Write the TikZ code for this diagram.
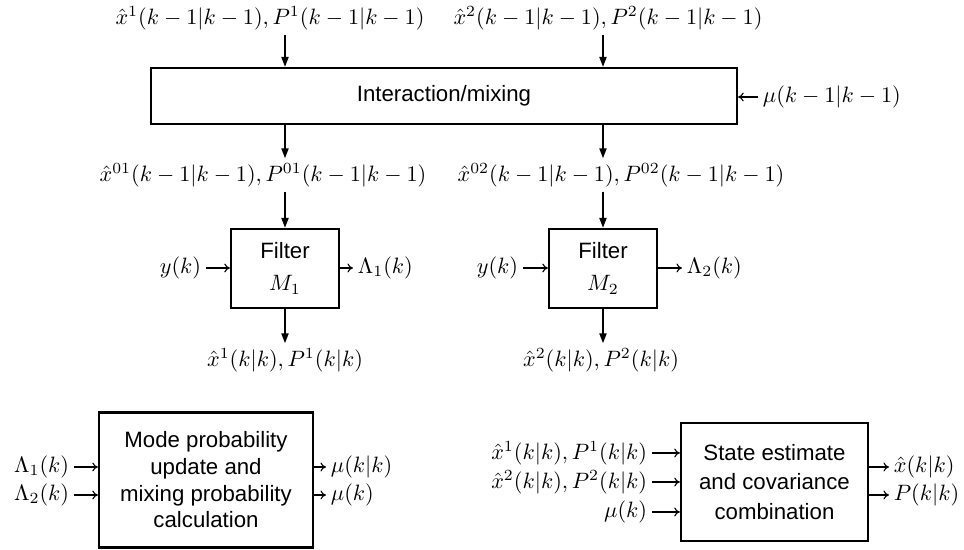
\documentclass[tikz,border=0pt]{standalone}
\usepackage{fontspec}
\setsansfont{Liberation Sans}
\usetikzlibrary{arrows.meta}
\begin{document}
\begin{tikzpicture}[x=0.45pt,y=-0.45pt,
  box/.style={draw, line width=1pt, font=\sffamily, align=center, inner sep=0pt},
  lbl/.style={inner sep=2pt},
  varr/.style={line width=0.8pt, -{Triangle[length=4.5pt,width=3.2pt]}},
  harr/.style={line width=0.5pt, -{To[length=2.5pt,width=4pt]}}]
\useasboundingbox (0,0) rectangle (964,550);
% interaction / mixing
\node[box, minimum width=263.7pt, minimum height=25.2pt] (ib) at (444,96) {Interaction/mixing};
\node[lbl] (t1) at (270,18) {$\hat{x}^1(k-1|k-1), P^1(k-1|k-1)$};
\node[lbl] (t2) at (608,18) {$\hat{x}^2(k-1|k-1), P^2(k-1|k-1)$};
\node[lbl, anchor=west] (mu0) at (758,97) {$\mu(k-1|k-1)$};
\node[lbl] (m1) at (263,175) {$\hat{x}^{01}(k-1|k-1), P^{01}(k-1|k-1)$};
\node[lbl] (m2) at (621,175) {$\hat{x}^{02}(k-1|k-1), P^{02}(k-1|k-1)$};
% filters
\node[box, minimum width=48.6pt, minimum height=35.6pt] (f1) at (285,268.5) {Filter\\[2.4pt] $M_1$};
\node[box, minimum width=48.6pt, minimum height=35.6pt] (f2) at (603,268.5) {Filter\\[2.4pt] $M_2$};
\node[lbl, anchor=east] (y1) at (206,268) {$y(k)$};
\node[lbl, anchor=west] (l1) at (353,268) {$\Lambda_1(k)$};
\node[lbl, anchor=east] (y2) at (523,268) {$y(k)$};
\node[lbl, anchor=west] (l2) at (682,268) {$\Lambda_2(k)$};
\node[lbl] (b1) at (285,360) {$\hat{x}^1(k|k), P^1(k|k)$};
\node[lbl] (b2) at (601,360) {$\hat{x}^2(k|k), P^2(k|k)$};
% mode probability box
\node[box, minimum width=96.3pt, minimum height=60.75pt] (mp) at (206,480)
  {Mode probability\\update and\\mixing probability\\calculation};
\node[lbl, anchor=east] (la1) at (74,467) {$\Lambda_1(k)$};
\node[lbl, anchor=east] (la2) at (74,495) {$\Lambda_2(k)$};
\node[lbl, anchor=west] (mo1) at (326,467) {$\mu(k|k)$};
\node[lbl, anchor=west] (mo2) at (326,495) {$\mu(k)$};
% combination box
\node[box, minimum width=84.2pt, minimum height=53.1pt] (sc) at (774.5,482)
  {State estimate\\[1.3pt]and covariance\\[1.3pt]combination};
\node[lbl, anchor=east] (si1) at (652,453) {$\hat{x}^1(k|k), P^1(k|k)$};
\node[lbl, anchor=east] (si2) at (652,482) {$\hat{x}^2(k|k), P^2(k|k)$};
\node[lbl, anchor=east] (si3) at (652,512) {$\mu(k)$};
\node[lbl, anchor=west] (so1) at (889,467) {$\hat{x}(k|k)$};
\node[lbl, anchor=west] (so2) at (889,495) {$P(k|k)$};
% vertical connectors
\draw[varr] (t1.south -| f1.north) -- (ib.north -| f1.north);
\draw[varr] (t2.south -| f2.north) -- (ib.north -| f2.north);
\draw[varr] (ib.south -| f1.north) -- (m1.north -| f1.north);
\draw[varr] (ib.south -| f2.north) -- (m2.north -| f2.north);
\draw[varr] (m1.south -| f1.north) -- (f1.north);
\draw[varr] (m2.south -| f2.north) -- (f2.north);
\draw[varr] (f1.south) -- (b1.north -| f1.south);
\draw[varr] (f2.south) -- (b2.north -| f2.south);
% horizontal connectors
\draw[harr] (mu0.west) -- (ib.east |- mu0.west);
\draw[harr] (y1.east) -- (f1.west |- y1.east);
\draw[harr] (f1.east |- l1.west) -- (l1.west);
\draw[harr] (y2.east) -- (f2.west |- y2.east);
\draw[harr] (f2.east |- l2.west) -- (l2.west);
\draw[harr] (la1.east) -- (mp.west |- la1.east);
\draw[harr] (la2.east) -- (mp.west |- la2.east);
\draw[harr] (mp.east |- mo1.west) -- (mo1.west);
\draw[harr] (mp.east |- mo2.west) -- (mo2.west);
\draw[harr] (si1.east) -- (sc.west |- si1.east);
\draw[harr] (si2.east) -- (sc.west |- si2.east);
\draw[harr] (si3.east) -- (sc.west |- si3.east);
\draw[harr] (sc.east |- so1.west) -- (so1.west);
\draw[harr] (sc.east |- so2.west) -- (so2.west);
\end{tikzpicture}
\end{document}
